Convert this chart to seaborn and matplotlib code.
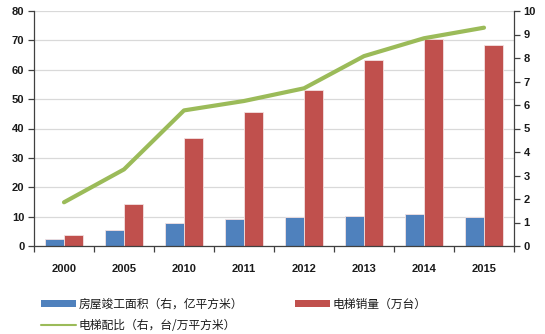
import matplotlib
matplotlib.use("Agg")
import matplotlib.pyplot as plt
from matplotlib.patches import Patch
from matplotlib.lines import Line2D
import seaborn as sns
import pandas as pd
import numpy as np

years = ["2000", "2005", "2010", "2011", "2012", "2013", "2014", "2015"]
completed_area = [2.4, 5.4, 7.9, 9.3, 10.0, 10.1, 10.8, 10.0]
elevator_sales = [3.7, 14.3, 36.6, 45.7, 53.0, 63.4, 70.6, 68.4]
elevator_ratio = [1.86, 3.26, 5.77, 6.17, 6.71, 8.08, 8.84, 9.29]

label_area = "房屋竣工面积（右，亿平方米）"
label_sales = "电梯销量（万台）"
label_ratio = "电梯配比（右，台/万平方米）"

blue = "#4F81BD"
red = "#C0504D"
green = "#9BBB59"
text_color = "#1a1a1a"

sns.set_theme(style="white")
plt.rcParams["font.family"] = ["Noto Sans CJK SC", "DejaVu Sans"]

df = pd.DataFrame({
    "year": years * 2,
    "value": completed_area + elevator_sales,
    "series": [label_area] * len(years) + [label_sales] * len(years),
})

fig = plt.figure(figsize=(5.45, 3.34), dpi=100)
ax = fig.add_axes([34 / 545, 1 - 246 / 334, 480 / 545, 235 / 334])

sns.barplot(data=df, x="year", y="value", hue="series", order=years,
            hue_order=[label_area, label_sales], palette=[blue, red],
            saturation=1, width=0.62, gap=0, ax=ax, legend=False,
            edgecolor="#f3e1e1", linewidth=0.6)

ax.set_xlim(-0.5, len(years) - 0.5)
ax.set_ylim(0, 80)
ax.set_yticks(np.arange(0, 81, 10))
ax.yaxis.grid(True, color="#d9d9d9", linewidth=0.9)
ax.set_axisbelow(True)
ax.set_xlabel("")
ax.set_ylabel("")

# category boundaries carry the tick marks; labels sit at centres
ax.set_xticks(np.arange(len(years)))
ax.set_xticklabels(years)
ax.set_xticks(np.arange(-0.5, len(years), 1), minor=True)
ax.tick_params(axis="x", which="major", length=0, pad=13, labelsize=8,
               colors=text_color)
ax.tick_params(axis="x", which="minor", length=4, width=0.9, color="#404040",
               direction="out", bottom=True)
ax.tick_params(axis="y", length=4, width=0.9, color="#404040", direction="out",
               left=True, labelsize=8, colors=text_color, pad=3)
for lbl in ax.get_xticklabels() + ax.get_yticklabels():
    lbl.set_fontweight("bold")
    lbl.set_family(["Liberation Sans", "DejaVu Sans"])

for side in ["top", "right"]:
    ax.spines[side].set_visible(False)
for side in ["left", "bottom"]:
    ax.spines[side].set_color("#404040")
    ax.spines[side].set_linewidth(0.9)

ax2 = ax.twinx()
sns.lineplot(x=np.arange(len(years)), y=elevator_ratio, ax=ax2, color=green,
             linewidth=3, legend=False)
ax2.set_ylim(0, 10)
ax2.set_yticks(np.arange(0, 11, 1))
ax2.tick_params(axis="y", length=4, width=0.9, color="#404040", direction="out",
                right=True, labelsize=8, colors=text_color, pad=3)
for lbl in ax2.get_yticklabels():
    lbl.set_fontweight("bold")
    lbl.set_family(["Liberation Sans", "DejaVu Sans"])
for side in ["top", "left", "bottom"]:
    ax2.spines[side].set_visible(False)
ax2.spines["right"].set_color("#404040")
ax2.spines["right"].set_linewidth(0.9)
ax2.set_xlim(-0.5, len(years) - 0.5)

handles = [
    Patch(facecolor=blue, edgecolor="none"),
    Line2D([], [], color=green, linewidth=1.5),
    Patch(facecolor=red, edgecolor="none"),
]
labels = [label_area, label_ratio, label_sales]
fig.legend(handles, labels, ncol=2, loc="upper left",
           bbox_to_anchor=(30 / 545, 1 - 287 / 334), frameon=False,
           fontsize=8.5, handlelength=3.0, handleheight=0.55, handletextpad=0.2,
           columnspacing=4.4, labelspacing=0.7, labelcolor=text_color)

fig.savefig("out.png", dpi=100)
